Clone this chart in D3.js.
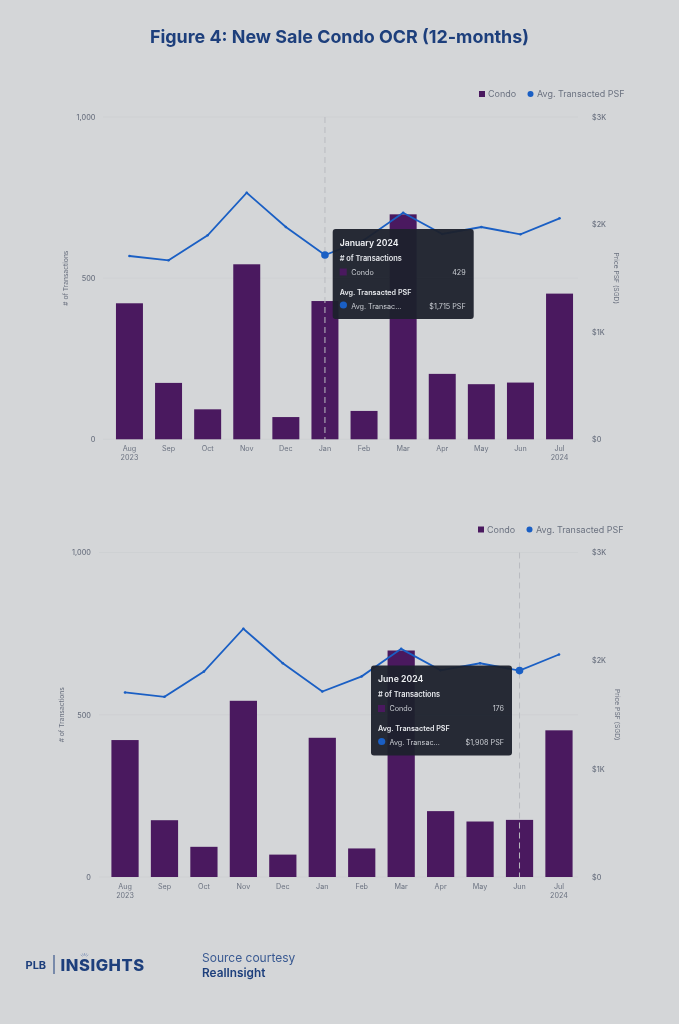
<!DOCTYPE html>
<html>
<head>
<meta charset="utf-8">
<script src="https://cdn.jsdelivr.net/npm/d3@7"></script>
<style>
  html, body { margin: 0; padding: 0; background: #d4d6d8; }
  svg { display: block; font-family: Inter, sans-serif; filter: blur(0.35px); }
  .axis path, .axis line { display: none; }
  .axis text { font-family: Inter, sans-serif; fill: #6b7280; }
</style>
</head>
<body>
<svg id="chart" width="679" height="1024"></svg>
<script>
const months = ['Aug', 'Sep', 'Oct', 'Nov', 'Dec', 'Jan', 'Feb', 'Mar', 'Apr', 'May', 'Jun', 'Jul'];
const years = ['2023', '', '', '', '', '', '', '', '', '', '', '2024'];
const transactions = [422, 175, 93, 543, 69, 429, 88, 698, 203, 171, 176, 452];
const avgPsf = [1706, 1666, 1899, 2295, 1976, 1715, 1855, 2109, 1911, 1976, 1908, 2057];
const leftTicks = [0, 500, 1000];
const rightTicks = [0, 1000, 2000, 3000];

const navy = '#1d3f7c';
const purple = '#4a195f';
const blue = '#1a5fc4';
const grey = '#6b7280';

const svg = d3.select('#chart');

svg.append('text').attr('x', 339.5).attr('y', 42.5).attr('text-anchor', 'middle')
  .attr('font-size', 17.9).attr('font-weight', 700).attr('fill', navy)
  .text('Figure 4: New Sale Condo OCR (12-months)');

function drawPanel(p) {
  const g = svg.append('g');
  const x = d3.scaleBand().domain(months).range([p.bandLeft, p.bandRight])
    .paddingInner(0.31).paddingOuter(0.155);
  const yLeft = d3.scaleLinear().domain([0, 1000]).range([p.bottom, p.top]);
  const yRight = d3.scaleLinear().domain([0, 3000]).range([p.bottom, p.top]);
  const cx = m => x(m) + x.bandwidth() / 2;

  // grid
  g.selectAll('.grid').data(leftTicks).enter().append('line')
    .attr('x1', p.gridLeft).attr('x2', p.gridRight)
    .attr('y1', d => yLeft(d)).attr('y2', d => yLeft(d))
    .attr('stroke', '#cdcfd2').attr('stroke-width', 0.8);

  // bars
  g.selectAll('.bar').data(transactions).enter().append('rect')
    .attr('x', (d, i) => x(months[i]))
    .attr('y', d => yLeft(d))
    .attr('width', x.bandwidth())
    .attr('height', d => p.bottom - yLeft(d))
    .attr('fill', purple);

  // crosshair
  const hoverMonth = months[p.hover];
  g.append('line')
    .attr('x1', cx(hoverMonth)).attr('x2', cx(hoverMonth))
    .attr('y1', p.top).attr('y2', p.bottom)
    .attr('stroke', '#b9bbc0').attr('stroke-width', 1).attr('stroke-dasharray', '6 4');

  // line + points
  const line = d3.line().x((d, i) => cx(months[i])).y(d => yRight(d));
  g.append('path').attr('d', line(avgPsf))
    .attr('fill', 'none').attr('stroke', blue).attr('stroke-width', 1.8);
  g.selectAll('.pt').data(avgPsf).enter().append('circle')
    .attr('cx', (d, i) => cx(months[i])).attr('cy', d => yRight(d))
    .attr('r', (d, i) => i === p.hover ? 3.8 : 1.3)
    .attr('fill', blue);

  // axes
  const left = g.append('g').attr('class', 'axis').attr('transform', `translate(${p.leftAxis},0)`)
    .call(d3.axisLeft(yLeft).tickValues(leftTicks).tickSize(0).tickPadding(0).tickFormat(d3.format(',')));
  left.selectAll('text').attr('font-size', 7.2).attr('font-weight', 500);

  const right = g.append('g').attr('class', 'axis').attr('transform', `translate(${p.rightAxis},0)`)
    .call(d3.axisRight(yRight).tickValues(rightTicks).tickSize(0).tickPadding(0)
      .tickFormat(d => d === 0 ? '$0' : `$${d / 1000}K`));
  right.selectAll('text').attr('font-size', 7.2).attr('font-weight', 500);

  const bottom = g.append('g').attr('class', 'axis').attr('transform', `translate(0,${p.bottom})`)
    .call(d3.axisBottom(x).tickSize(0).tickPadding(0));
  bottom.selectAll('text').attr('font-size', 7.2).attr('dy', null).attr('y', 12);
  bottom.selectAll('.tick').append('text')
    .attr('y', 21).attr('text-anchor', 'middle').attr('font-size', 7.2)
    .text((d, i) => years[i]);

  // axis titles
  g.append('text').attr('transform', `translate(${p.leftTitle},${(p.top + p.bottom) / 2}) rotate(-90)`)
    .attr('text-anchor', 'middle').attr('font-size', 6.7).attr('fill', grey).text('# of Transactions');
  g.append('text').attr('transform', `translate(${p.rightTitle},${(p.top + p.bottom) / 2}) rotate(90)`)
    .attr('text-anchor', 'middle').attr('font-size', 6.7).attr('fill', grey).text('Price PSF (SGD)');

  // legend
  const ly = p.top - 23;
  g.append('rect').attr('x', p.legendX).attr('y', ly - 3).attr('width', 6).attr('height', 6).attr('fill', purple);
  g.append('text').attr('x', p.legendX + 9).attr('y', ly + 3.3).attr('font-size', 9).attr('fill', grey).text('Condo');
  g.append('circle').attr('cx', p.legendX + 51.5).attr('cy', ly).attr('r', 3).attr('fill', blue);
  g.append('text').attr('x', p.legendX + 58).attr('y', ly + 3.3).attr('font-size', 8.95).attr('fill', grey).text('Avg. Transacted PSF');

  // tooltip
  const t = g.append('g').attr('transform', `translate(${p.tipX},${p.tipY})`);
  t.append('rect').attr('width', 141).attr('height', 90).attr('rx', 3).attr('fill', '#1c212c').attr('fill-opacity', 0.95);
  t.append('text').attr('x', 7).attr('y', 16.5).attr('fill', '#eef0f3').attr('font-size', 8.7).attr('font-weight', 600).text(p.tipTitle);
  t.append('text').attr('x', 7).attr('y', 31.5).attr('fill', '#e5e7eb').attr('font-size', 7.4).attr('font-weight', 600).text('# of Transactions');
  t.append('rect').attr('x', 7).attr('y', 39.5).attr('width', 7).attr('height', 7).attr('fill', purple);
  t.append('text').attr('x', 18.5).attr('y', 45.7).attr('fill', '#c9ccd2').attr('font-size', 7.2).text('Condo');
  t.append('text').attr('x', 133).attr('y', 45.7).attr('text-anchor', 'end').attr('fill', '#c9ccd2').attr('font-size', 7.2)
    .text(transactions[p.hover]);
  t.append('text').attr('x', 7).attr('y', 65.5).attr('fill', '#e5e7eb').attr('font-size', 7.2).attr('font-weight', 600).text('Avg. Transacted PSF');
  t.append('circle').attr('cx', 10.7).attr('cy', 76).attr('r', 3.6).attr('fill', blue);
  t.append('text').attr('x', 18.5).attr('y', 79.5).attr('fill', '#c9ccd2').attr('font-size', 7.2).text('Avg. Transac...');
  t.append('text').attr('x', 133).attr('y', 79.5).attr('text-anchor', 'end').attr('fill', '#c9ccd2').attr('font-size', 7.2)
    .text('$' + d3.format(',')(avgPsf[p.hover]) + ' PSF');
}

drawPanel({
  top: 117, bottom: 439.3, bandLeft: 109.9, bandRight: 579.1, gridLeft: 103, gridRight: 578,
  leftAxis: 95.5, rightAxis: 592, leftTitle: 67.5, rightTitle: 613.5,
  legendX: 479, hover: 5, tipX: 332.7, tipY: 229, tipTitle: 'January 2024'
});
drawPanel({
  top: 552.5, bottom: 877, bandLeft: 105.3, bandRight: 578.7, gridLeft: 99, gridRight: 578,
  leftAxis: 91, rightAxis: 592, leftTitle: 63.5, rightTitle: 614.5,
  legendX: 478, hover: 10, tipX: 371, tipY: 665.5, tipTitle: 'June 2024'
});

// footer
const foot = svg.append('g');
foot.append('text').attr('x', 25.5).attr('y', 969).attr('font-size', 11).attr('font-weight', 700).attr('fill', navy).text('PLB');
foot.append('line').attr('x1', 54).attr('x2', 54).attr('y1', 955).attr('y2', 974).attr('stroke', navy).attr('stroke-width', 1);
foot.append('text').attr('x', 60.5).attr('y', 970.5).attr('font-size', 16.5).attr('font-weight', 800).attr('letter-spacing', 0.55).attr('fill', navy).text('INSIGHTS');
// little bulb rays on the logo
[-50, -25, 0, 25, 50].forEach(a => {
  const r = Math.PI * a / 180;
  foot.append('line')
    .attr('x1', 84.5 + 2.5 * Math.sin(r)).attr('y1', 958 - 2.5 * Math.cos(r))
    .attr('x2', 84.5 + 5 * Math.sin(r)).attr('y2', 958 - 5 * Math.cos(r))
    .attr('stroke', '#7f93b8').attr('stroke-width', 0.7);
});
foot.append('text').attr('x', 202).attr('y', 962).attr('font-size', 12).attr('fill', '#3a5a92').text('Source courtesy');
foot.append('text').attr('x', 202).attr('y', 977).attr('font-size', 11.8).attr('font-weight', 600).attr('fill', navy).text('RealInsight');
</script>
</body>
</html>
